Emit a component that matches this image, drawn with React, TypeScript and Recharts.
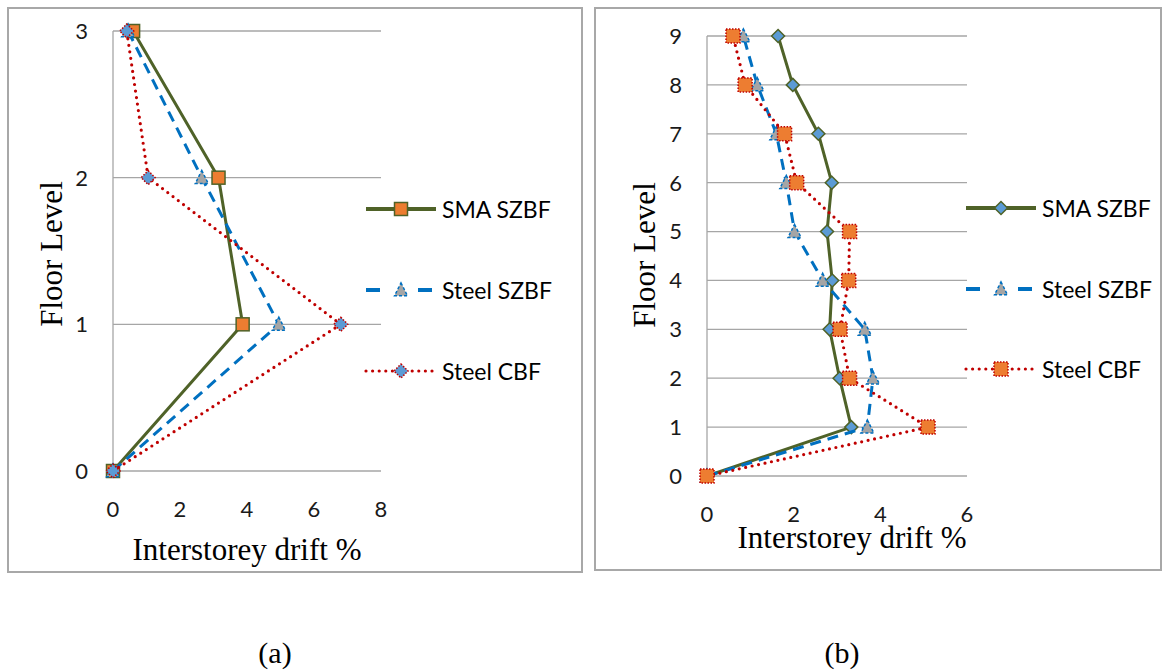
import React from 'react';
import { ScatterChart, Scatter, XAxis, YAxis, CartesianGrid, Label } from 'recharts';

// (a) 3-storey frames
const floorsA = [0, 1, 2, 3];
const smaSzbfA = [0, 3.87, 3.15, 0.6];
const steelSzbfA = [0, 4.95, 2.65, 0.45];
const steelCbfA = [0, 6.8, 1.05, 0.41];
const driftTicksA = [0, 2, 4, 6, 8];

// (b) 9-storey frames
const floorsB = [0, 1, 2, 3, 4, 5, 6, 7, 8, 9];
const smaSzbfB = [0, 3.33, 3.06, 2.83, 2.89, 2.77, 2.88, 2.57, 1.98, 1.64];
const steelSzbfB = [0, 3.7, 3.83, 3.64, 2.67, 2.02, 1.83, 1.6, 1.16, 0.84];
const steelCbfB = [0, 5.1, 3.29, 3.07, 3.27, 3.29, 2.07, 1.79, 0.88, 0.6];
const driftTicksB = [0, 2, 4, 6];

const seriesNames = ['SMA SZBF', 'Steel SZBF', 'Steel CBF'];

const GREEN = '#4f6228';
const BLUE = '#0070c0';
const RED = '#c00000';
const ORANGE = '#ed7d31';
const GRAY = '#a5a5a5';
const SKY = '#5b9bd5';

const toPoints = (drift: number[], floors: number[]) =>
  drift.map((x, i) => ({ x, y: floors[i] }));

const solidLine = { stroke: GREEN, strokeWidth: 3 };
const dashedLine = { stroke: BLUE, strokeWidth: 3, strokeDasharray: '11 7' };
const dottedLine = { stroke: RED, strokeWidth: 3.2, strokeDasharray: '0 6.6', strokeLinecap: 'round' as const };

type MarkProps = { cx?: number; cy?: number };

const square = (fill: string, stroke: string, dash?: string, s = 13) => (p: MarkProps) => (
  <rect x={(p.cx ?? 0) - s / 2} y={(p.cy ?? 0) - s / 2} width={s} height={s}
    fill={fill} stroke={stroke} strokeWidth={1.5} strokeDasharray={dash} />
);

const triangle = (s = 13) => (p: MarkProps) => {
  const cx = p.cx ?? 0, cy = p.cy ?? 0;
  return (
    <polygon points={`${cx},${cy - s * 0.55} ${cx + s / 2},${cy + s * 0.45} ${cx - s / 2},${cy + s * 0.45}`}
      fill={GRAY} stroke={BLUE} strokeWidth={1.5} strokeDasharray="3 2" />
  );
};

const diamond = (stroke: string, dash?: string, s = 14) => (p: MarkProps) => {
  const cx = p.cx ?? 0, cy = p.cy ?? 0, h = s / 2;
  return (
    <polygon points={`${cx},${cy - h} ${cx + h},${cy} ${cx},${cy + h} ${cx - h},${cy}`}
      fill={SKY} stroke={stroke} strokeWidth={1.5} strokeDasharray={dash} />
  );
};

const titleFont = 'Liberation Serif';

const XTick = (props: any) => (
  <text x={props.x} y={props.y} dy="0.72em" textAnchor="middle"
    fontFamily="Lato" fontSize={22} fill="#1a1a1a">{props.payload.value}</text>
);

const YTick = (props: any) => (
  <text x={props.x} y={props.y} dy="0.36em" textAnchor="end"
    fontFamily="Lato" fontSize={22} fill="#1a1a1a">{props.payload.value}</text>
);

const XTitle = ({ dx, base }: { dx: number; base: number }) => (props: any) => {
  const vb = props.viewBox;
  return (
    <text x={vb.x + vb.width / 2 + dx} y={vb.y + base} textAnchor="middle"
      fontFamily={titleFont} fontSize={31} fill="#000">Interstorey drift %</text>
  );
};

const YTitle = ({ bx, dy }: { bx: number; dy: number }) => (props: any) => {
  const vb = props.viewBox;
  const cy = vb.y + vb.height / 2 + dy;
  return (
    <text x={bx} y={cy} textAnchor="middle" transform={`rotate(-90, ${bx}, ${cy})`}
      fontFamily={titleFont} fontSize={31} fill="#000">Floor Level</text>
  );
};

type LegendRow = { name: string; line: any; x2: number; mark: (p: MarkProps) => React.ReactElement };

const LegendBlock = ({ left, top, gap, rows }: { left: number; top: number; gap: number; rows: LegendRow[] }) => (
  <div style={{ position: 'absolute', left, top }}>
    {rows.map((r, i) => (
      <div key={r.name} style={{ position: 'absolute', left: 0, top: i * gap - 16, height: 32, display: 'flex', alignItems: 'center', whiteSpace: 'nowrap' }}>
        <svg width={76} height={32} style={{ overflow: 'visible' }}>
          <line x1={0} x2={r.x2} y1={16} y2={16} {...r.line} />
          {r.mark({ cx: 35, cy: 16 })}
        </svg>
        <span style={{ fontFamily: 'Lato', fontSize: 23, color: '#000' }}>{r.name}</span>
      </div>
    ))}
  </div>
);

const boxStyle = (left: number, top: number, width: number, height: number): React.CSSProperties => ({
  position: 'absolute', left, top, width, height, border: '2px solid #a8a8a8', boxSizing: 'border-box', pointerEvents: 'none',
});

const legendDash = { ...dashedLine, strokeDasharray: '14 38', strokeWidth: 4 };

export default function App() {
  const markA = [square(ORANGE, GREEN), triangle(13), diamond(RED, '1.5 1.5')];
  const markB = [diamond(GREEN, undefined, 13), triangle(13), square(ORANGE, RED, '1.5 1.5', 14)];
  const linesStyle = [solidLine, dashedLine, dottedLine];
  const dataA = [smaSzbfA, steelSzbfA, steelCbfA].map((d) => toPoints(d, floorsA));
  const dataB = [smaSzbfB, steelSzbfB, steelCbfB].map((d) => toPoints(d, floorsB));

  const legendRows = (marks: ((p: MarkProps) => React.ReactElement)[]): LegendRow[] => [
    { name: seriesNames[0], line: { ...solidLine, strokeWidth: 4 }, x2: 70, mark: marks[0] },
    { name: seriesNames[1], line: legendDash, x2: 66, mark: marks[1] },
    { name: seriesNames[2], line: dottedLine, x2: 66, mark: marks[2] },
  ];

  return (
    <div style={{ position: 'absolute', left: 0, top: 0, width: 1164, height: 671, background: '#fff' }}>
      {/* (a) */}
      <div style={{ position: 'absolute', left: 7, top: 7 }}>
        <ScatterChart width={576} height={566} margin={{ top: 24, right: 202, bottom: 42, left: 46 }}>
          <CartesianGrid vertical={false} stroke="#a6a6a6" strokeWidth={1.3} />
          <XAxis type="number" dataKey="x" domain={[0, 8]} ticks={driftTicksA} height={60}
            axisLine={false} tickLine={false} tickSize={0} tickMargin={30} tick={XTick}>
            <Label content={XTitle({ dx: 0, base: 89 })} />
          </XAxis>
          <YAxis type="number" dataKey="y" domain={[0, 3]} ticks={floorsA} width={60}
            axisLine={{ stroke: '#a6a6a6', strokeWidth: 1.3 }} tickLine={false} tickSize={0} tickMargin={25} tick={YTick}>
            <Label content={YTitle({ bx: 55, dy: 3 })} />
          </YAxis>
          {dataA.map((d, i) => (
            <Scatter key={seriesNames[i]} name={seriesNames[i]} data={d} line={linesStyle[i]} lineType="joint"
              shape={markA[i]} isAnimationActive={false} />
          ))}
        </ScatterChart>
      </div>
      <div style={boxStyle(7, 7, 576, 566)} />
      <LegendBlock left={366} top={209} gap={81} rows={legendRows(markA)} />

      {/* (b) */}
      <div style={{ position: 'absolute', left: 594, top: 7 }}>
        <ScatterChart width={568} height={564} margin={{ top: 29, right: 195, bottom: 35, left: 53 }}>
          <CartesianGrid vertical={false} stroke="#a6a6a6" strokeWidth={1.3} />
          <XAxis type="number" dataKey="x" domain={[0, 6]} ticks={driftTicksB} height={60}
            axisLine={false} tickLine={false} tickSize={0} tickMargin={30} tick={XTick}>
            <Label content={XTitle({ dx: 15, base: 72 })} />
          </XAxis>
          <YAxis type="number" dataKey="y" domain={[0, 9]} ticks={floorsB} width={60}
            axisLine={{ stroke: '#a6a6a6', strokeWidth: 1.3 }} tickLine={false} tickSize={0} tickMargin={25} tick={YTick}>
            <Label content={YTitle({ bx: 61, dy: -1 })} />
          </YAxis>
          {dataB.map((d, i) => (
            <Scatter key={seriesNames[i]} name={seriesNames[i]} data={d} line={linesStyle[i]} lineType="joint"
              shape={markB[i]} isAnimationActive={false} />
          ))}
        </ScatterChart>
      </div>
      <div style={boxStyle(594, 7, 568, 564)} />
      <LegendBlock left={966} top={208} gap={80.5} rows={legendRows(markB)} />

      <div style={{ position: 'absolute', left: 245, top: 636, width: 60, textAlign: 'center', fontFamily: titleFont, fontSize: 30 }}>(a)</div>
      <div style={{ position: 'absolute', left: 812, top: 636, width: 60, textAlign: 'center', fontFamily: titleFont, fontSize: 30 }}>(b)</div>
    </div>
  );
}
